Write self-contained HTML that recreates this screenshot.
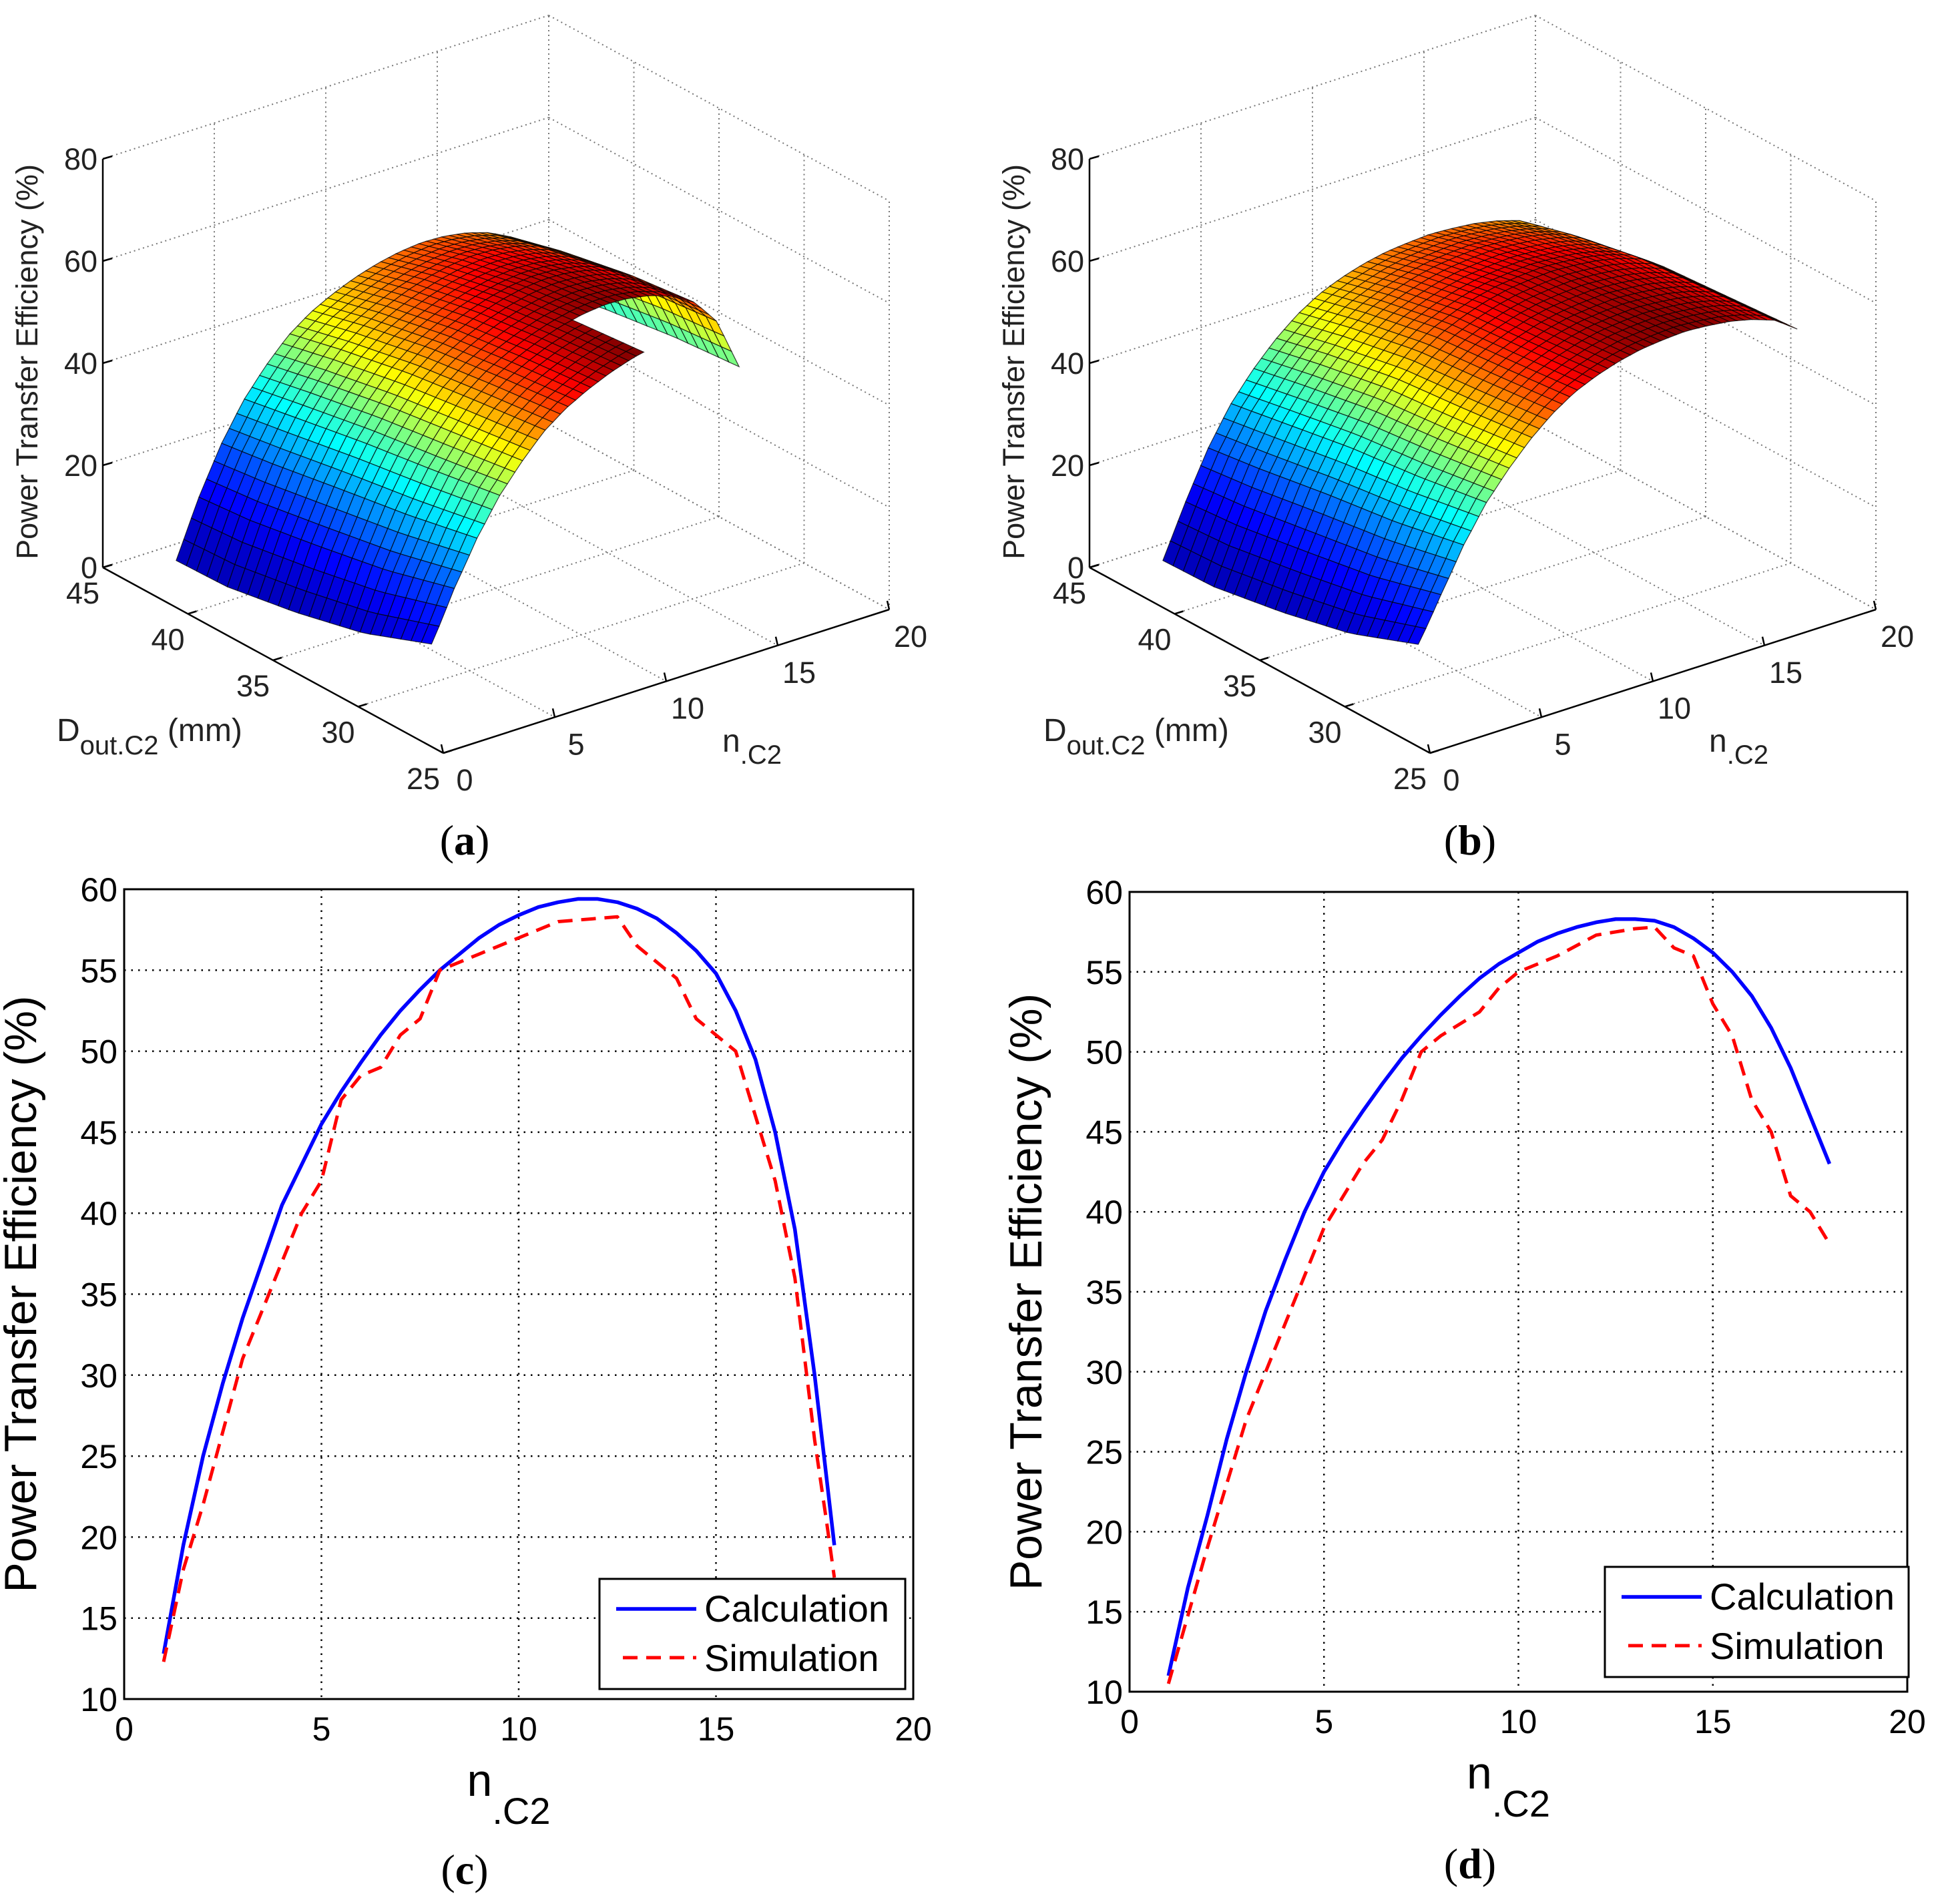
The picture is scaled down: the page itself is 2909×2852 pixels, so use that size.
<!DOCTYPE html>
<html><head><meta charset="utf-8"><style>
html,body{margin:0;padding:0;background:#fff;}
svg{display:block;font-family:"Liberation Sans",sans-serif;}
</style></head><body>
<svg id="fig" width="2909" height="2852" viewBox="0 0 2909 2852" xmlns="http://www.w3.org/2000/svg">
<rect width="2909" height="2852" fill="#fff"/>
<g id="pa"></g>
<g id="pb"></g>
<g id="pc"></g>
<g id="pd"></g>
<g font-family="Liberation Serif, serif" font-size="64" text-anchor="middle">
<text x="696" y="1280">(<tspan font-weight="bold">a</tspan>)</text>
<text x="2202" y="1280">(<tspan font-weight="bold">b</tspan>)</text>
<text x="696" y="2822">(<tspan font-weight="bold">c</tspan>)</text>
<text x="2202" y="2813">(<tspan font-weight="bold">d</tspan>)</text>
</g>
</svg>
<script>
// ---- 2D chart data ----
const calcCX=[1,1.5,2,2.5,3,3.5,4,4.5,5,5.5,6,6.5,7,7.5,8,8.5,9,9.5,10,10.5,11,11.5,12,12.5,13,13.5,14,14.5,15,15.5,16,16.5,17,17.5,18];
const calcCY=[12.8,19.5,25,29.5,33.5,37,40.5,43,45.5,47.5,49.3,51,52.5,53.8,55,56,57,57.8,58.4,58.9,59.2,59.4,59.4,59.2,58.8,58.2,57.3,56.2,54.8,52.5,49.5,45,39,30,19.5];
const simCX=[1,1.5,2,3,4,4.5,5,5.5,6,6.5,7,7.5,8,9,10,11,12,12.5,13,13.5,14,14.5,15,15.5,16,16.5,17,17.5,17.8,18];
const simCY=[12.3,18,22,31,37,40,42,47,48.5,49,51,52,55,56,57,58,58.2,58.3,56.5,55.5,54.5,52,51,50,46,42,36,26,21,17.5];
const calcDX=[1,1.5,2,2.5,3,3.5,4,4.5,5,5.5,6,6.5,7,7.5,8,8.5,9,9.5,10,10.5,11,11.5,12,12.5,13,13.5,14,14.5,15,15.5,16,16.5,17,17.5,18];
const calcDY=[11,16.5,21,25.8,30,33.8,37,40,42.5,44.5,46.3,48,49.6,51,52.3,53.5,54.6,55.5,56.2,56.9,57.4,57.8,58.1,58.3,58.3,58.2,57.8,57.1,56.2,55,53.5,51.5,49,46,43];
const simDX=[1,2,3,4,5,6,6.5,7,7.5,8,9,9.5,10,11,12,13,13.5,14,14.5,15,15.5,16,16.5,17,17.5,18];
const simDY=[10.5,19,27,33,39,43,44.5,47,50,51,52.5,54,55,56,57.3,57.7,57.8,56.5,56,53,51,47,45,41,40,38];
const xTicks=[0,5,10,15,20];
const yTicks=[10,15,20,25,30,35,40,45,50,55,60];
// ---- 3D surface data ----
const nGrid=[1,2,3,4,5,6,7,8,9,10,11,12,13,14,15,16,17,18];
const effA=[6,18,28,36,42,47,50.5,53,55,56.5,57.5,58,57.8,57,55.5,53,48,38];
const effB=[6,17,27,35,41,46,50,53,55,56.5,57.5,58,58.3,58,57.5,56.5,55,52];
const dGrid=[27,31,35,39,42];
const dScaleA=[1.05,1.03,1.0,0.95,0.9];
const dScaleB=[1.04,1.02,1.0,0.95,0.9];
const dOffset=[10,5,2,0,0];
const zTicks=[0,20,40,60,80];
const dTicks=[25,30,35,40,45];
const nTicks=[0,5,10,15,20];

const NS="http://www.w3.org/2000/svg";
function mk(parent,tag,attrs){const e=document.createElementNS(NS,tag);for(const k in attrs)e.setAttribute(k,attrs[k]);parent.appendChild(e);return e;}
function interp(xs,ys,x){if(x<=xs[0])return ys[0];for(let i=1;i<xs.length;i++){if(x<=xs[i]){const t=(x-xs[i-1])/(xs[i]-xs[i-1]);return ys[i-1]+t*(ys[i]-ys[i-1]);}}return ys[ys.length-1];}
function jet(v){v=Math.max(0,Math.min(1,v));const r=Math.max(0,Math.min(1,1.5-Math.abs(4*v-3))),g=Math.max(0,Math.min(1,1.5-Math.abs(4*v-2))),b=Math.max(0,Math.min(1,1.5-Math.abs(4*v-1)));return `rgb(${Math.round(r*255)},${Math.round(g*255)},${Math.round(b*255)})`;}

function chart2d(g,L,R,T,B,cx,cy,sx2,sy2,leg){
  const X=v=>L+(v-0)/20*(R-L), Y=v=>B-(v-10)/50*(B-T);
  xTicks.forEach(t=>{
    if(t>0&&t<20){const l=mk(g,'line',{x1:X(t),x2:X(t),y1:T,y2:B,stroke:'#000','stroke-width':2.5,'stroke-dasharray':'2.5 8'});
    
    }
    const tx=mk(g,'text',{x:X(t),y:B+62,'font-size':50,'text-anchor':'middle'});tx.textContent=t;
    
    
  });
  yTicks.forEach(t=>{
    if(t>10&&t<60){const l=mk(g,'line',{x1:L,x2:R,y1:Y(t),y2:Y(t),stroke:'#000','stroke-width':2.5,'stroke-dasharray':'2.5 8'});
    
    }
    const tx=mk(g,'text',{x:L-10,y:Y(t)+18,'font-size':50,'text-anchor':'end'});tx.textContent=t;
    
    
  });
  const fr=mk(g,'rect',{x:L,y:T,width:R-L,height:B-T,fill:'none',stroke:'#000','stroke-width':3});
  
  
  const p1=mk(g,'polyline',{points:cx.map((v,i)=>X(v)+','+Y(cy[i])).join(' '),fill:'none',stroke:'#0000ff','stroke-width':5.5,'stroke-linejoin':'round'});
  
  
  const p2=mk(g,'polyline',{points:sx2.map((v,i)=>X(v)+','+Y(sy2[i])).join(' '),fill:'none',stroke:'#ff0000','stroke-width':5,'stroke-dasharray':'22 13','stroke-linejoin':'round'});
  
  
  const yl=mk(g,'text',{x:0,y:0,'font-size':68,'text-anchor':'middle',transform:`translate(${L-132},${(T+B)/2}) rotate(-90)`});yl.textContent='Power Transfer Efficiency (%)';
  
  
  const xl=mk(g,'text',{x:(L+R)/2-15,y:B+145,'font-size':68,'text-anchor':'middle'});xl.innerHTML='n<tspan font-size="56" dy="42">.C2</tspan>';
  
  
  const lg=mk(g,'g',{});
  
  
  mk(lg,'rect',{x:leg[0],y:leg[1],width:leg[2],height:leg[3],fill:'#fff',stroke:'#000','stroke-width':3});
  mk(lg,'line',{x1:leg[0]+25,x2:leg[0]+145,y1:leg[1]+45,y2:leg[1]+45,stroke:'#0000ff','stroke-width':5.5});
  mk(lg,'line',{x1:leg[0]+35,x2:leg[0]+145,y1:leg[1]+118,y2:leg[1]+118,stroke:'#ff0000','stroke-width':5,'stroke-dasharray':'22 13'});
  const t1=mk(lg,'text',{x:leg[0]+157,y:leg[1]+64,'font-size':56});t1.textContent='Calculation';
  
  
  const t2=mk(lg,'text',{x:leg[0]+157,y:leg[1]+138,'font-size':56});t2.textContent='Simulation';
  
  
}
chart2d(document.getElementById('pc'),186,1368,1332,2545,calcCX,calcCY,simCX,simCY,[898,2365,458,165]);
chart2d(document.getElementById('pd'),1692,2857,1336,2534,calcDX,calcDY,simDX,simDY,[2404,2347,455,165]);

function chart3d(g,ox,eff,dScale,cut){
  const base=[664+ox,1128],vD=[-510,-278],vN=[668,-215],vZ=[0,-612];
  const P=(D,n,z)=>{const a=(D-25)/20,b=n/20,c=z/80;return [base[0]+a*vD[0]+b*vN[0]+c*vZ[0],base[1]+a*vD[1]+b*vN[1]+c*vZ[1]];};
  const ln=(p,q,st,w,da,name)=>{const l=mk(g,'line',{x1:p[0],y1:p[1],x2:q[0],y2:q[1],stroke:st,'stroke-width':w});if(da)l.setAttribute('stroke-dasharray',da);
    
    };
  const gs='#777',dd='2 5';
  zTicks.forEach(z=>{ln(P(45,0,z),P(45,20,z),gs,2,dd,'grid-line');ln(P(45,20,z),P(25,20,z),gs,2,dd,'grid-line');});
  nTicks.forEach(n=>{ln(P(45,n,0),P(45,n,80),gs,2,dd,'grid-line');ln(P(45,n,0),P(25,n,0),gs,2,dd,'grid-line');});
  dTicks.forEach(D=>{ln(P(D,20,0),P(D,20,80),gs,2,dd,'grid-line');ln(P(D,0,0),P(D,20,0),gs,2,dd,'grid-line');});
  ln(P(45,0,0),P(45,0,80),'#000',2.5,null,'z-axis');
  ln(P(45,0,0),P(25,0,0),'#000',2.5,null,'d-axis');
  ln(P(25,0,0),P(25,20,0),'#000',2.5,null,'n-axis');
  zTicks.forEach(z=>{const p=P(45,0,z);ln(p,[p[0]+14,p[1]-4],'#000',2.5,null,'z-tick');
    const t=mk(g,'text',{x:p[0]-8,y:p[1]+16,'font-size':45,'text-anchor':'end',fill:'#222'});t.textContent=z;
    
    });
  dTicks.forEach(D=>{const p=P(D,0,0);ln(p,[p[0]+13,p[1]-4],'#000',2.5,null,'d-tick');
    const t=mk(g,'text',{x:p[0]-30,y:p[1]+54,'font-size':45,'text-anchor':'middle',fill:'#222'});t.textContent=D;
    
    });
  nTicks.forEach(n=>{const p=P(25,n,0);ln(p,[p[0]-3,p[1]-13],'#000',2.5,null,'n-tick');
    const t=mk(g,'text',{x:p[0]+32,y:p[1]+56,'font-size':45,'text-anchor':'middle',fill:'#222'});t.textContent=n;
    
    });
  const zl=mk(g,'text',{'font-size':45,'text-anchor':'middle',fill:'#222',transform:`translate(${56+ox},${542}) rotate(-90)`});zl.textContent='Power Transfer Efficiency (%)';
  
  
  const dl=mk(g,'text',{x:85+ox,y:1110,'font-size':48,fill:'#222'});dl.innerHTML='D<tspan font-size="40" dy="20">out.C2</tspan><tspan dy="-20"> (mm)</tspan>';
  
  
  const nl=mk(g,'text',{x:1082+ox,y:1126,'font-size':48,fill:'#222'});nl.innerHTML='n<tspan font-size="40" dy="18">.C2</tspan>';
  
  
  const sg=mk(g,'g',{});
  
  
  const Ns=[],Ds=[];for(let n=1;n<=18.001;n+=0.34)Ns.push(n);for(let D=27;D<=42.001;D+=0.6)Ds.push(D);
  const Z=(D,n)=>interp(nGrid,eff,n)*interp(dGrid,dScale,D)+interp(dGrid,dOffset,D)*Math.exp(-(n-1)/2.5);
  const quads=[];let zmin=1e9,zmax=-1e9;
  for(let i=0;i<Ds.length-1;i++)for(let j=0;j<Ns.length-1;j++){
    const D0=Ds[i],D1=Ds[i+1],n0=Ns[j],n1=Ns[j+1];
    if(cut&&D1<31.5&&n0>10.5)continue;
    const z=[Z(D0,n0),Z(D1,n0),Z(D1,n1),Z(D0,n1)];
    const zm=(z[0]+z[1]+z[2]+z[3])/4;zmin=Math.min(zmin,zm);zmax=Math.max(zmax,zm);
    quads.push({d:(D0+D1)/2-25+(n0+n1)/2*0.6,pts:[P(D0,n0,z[0]),P(D1,n0,z[1]),P(D1,n1,z[2]),P(D0,n1,z[3])],zm});
  }
  quads.sort((a,b)=>b.d-a.d);
  quads.forEach(q=>{const t=Math.pow((q.zm-zmin)/(zmax-zmin),1.7);
    const p=mk(sg,'polygon',{points:q.pts.map(p=>p[0].toFixed(1)+','+p[1].toFixed(1)).join(' '),fill:jet(0.06+0.94*t),stroke:'#000','stroke-width':1.2,'stroke-opacity':0.75});
    
    });
}
chart3d(document.getElementById('pa'),0,effA,dScaleA,true);
chart3d(document.getElementById('pb'),1478,effB,dScaleB,false);
</script>
</body></html>
